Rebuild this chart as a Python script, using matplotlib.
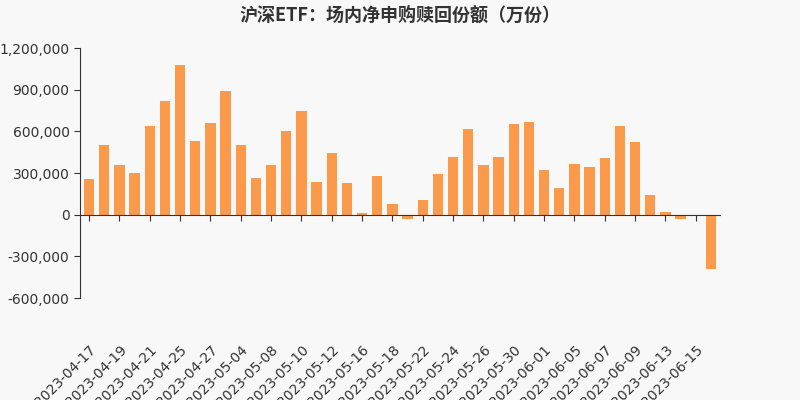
import matplotlib.pyplot as plt
from matplotlib.ticker import FuncFormatter

dates = ["2023-04-17","2023-04-18","2023-04-19","2023-04-20","2023-04-21","2023-04-24","2023-04-25","2023-04-26","2023-04-27","2023-04-28",
"2023-05-04","2023-05-05","2023-05-08","2023-05-09","2023-05-10","2023-05-11","2023-05-12","2023-05-15","2023-05-16","2023-05-17","2023-05-18","2023-05-19",
"2023-05-22","2023-05-23","2023-05-24","2023-05-25","2023-05-26","2023-05-29","2023-05-30","2023-05-31",
"2023-06-01","2023-06-02","2023-06-05","2023-06-06","2023-06-07","2023-06-08","2023-06-09","2023-06-12","2023-06-13","2023-06-14","2023-06-15","2023-06-16"]
values = [255000,500000,355000,300000,640000,820000,1075000,530000,660000,890000,
500000,265000,355000,600000,745000,235000,445000,230000,15000,275000,75000,-30000,
105000,295000,415000,620000,355000,415000,655000,670000,
320000,195000,365000,345000,405000,640000,520000,140000,20000,-30000,-5000,-390000]

fig = plt.figure(figsize=(8,4), dpi=100, facecolor='#f8f8f8')
ax = fig.add_axes([0.1, 0.255, 0.8, 0.625], facecolor='#f8f8f8')
x = list(range(len(dates)))
ax.bar(x, values, width=0.68, color='#fc9a4b')
ax.set_xlim(-0.6, len(dates)-0.4)
ax.set_ylim(-600000, 1200000)
ax.set_yticks(range(-600000, 1200001, 300000))
ax.yaxis.set_major_formatter(FuncFormatter(lambda v, p: f"{int(v):,}"))
ax.set_xticks(x[::2])
ax.set_xticklabels(dates[::2])
for s in ['top','right']:
    ax.spines[s].set_visible(False)
ax.spines['left'].set_color('#333333')
ax.spines['bottom'].set_position(('data', 0))
ax.spines['bottom'].set_color('#333333')
ax.tick_params(colors='#333333', labelsize=10, length=4)
ax.tick_params(axis='x', pad=88)
plt.setp(ax.get_xticklabels(), rotation=45, ha='right', rotation_mode='anchor')
fig.suptitle("沪深ETF：场内净申购赎回份额（万份）", y=0.985, fontsize=13, fontweight='bold',
             color='#333333', fontfamily='Noto Sans CJK SC')
fig.savefig("out.png", facecolor=fig.get_facecolor())
